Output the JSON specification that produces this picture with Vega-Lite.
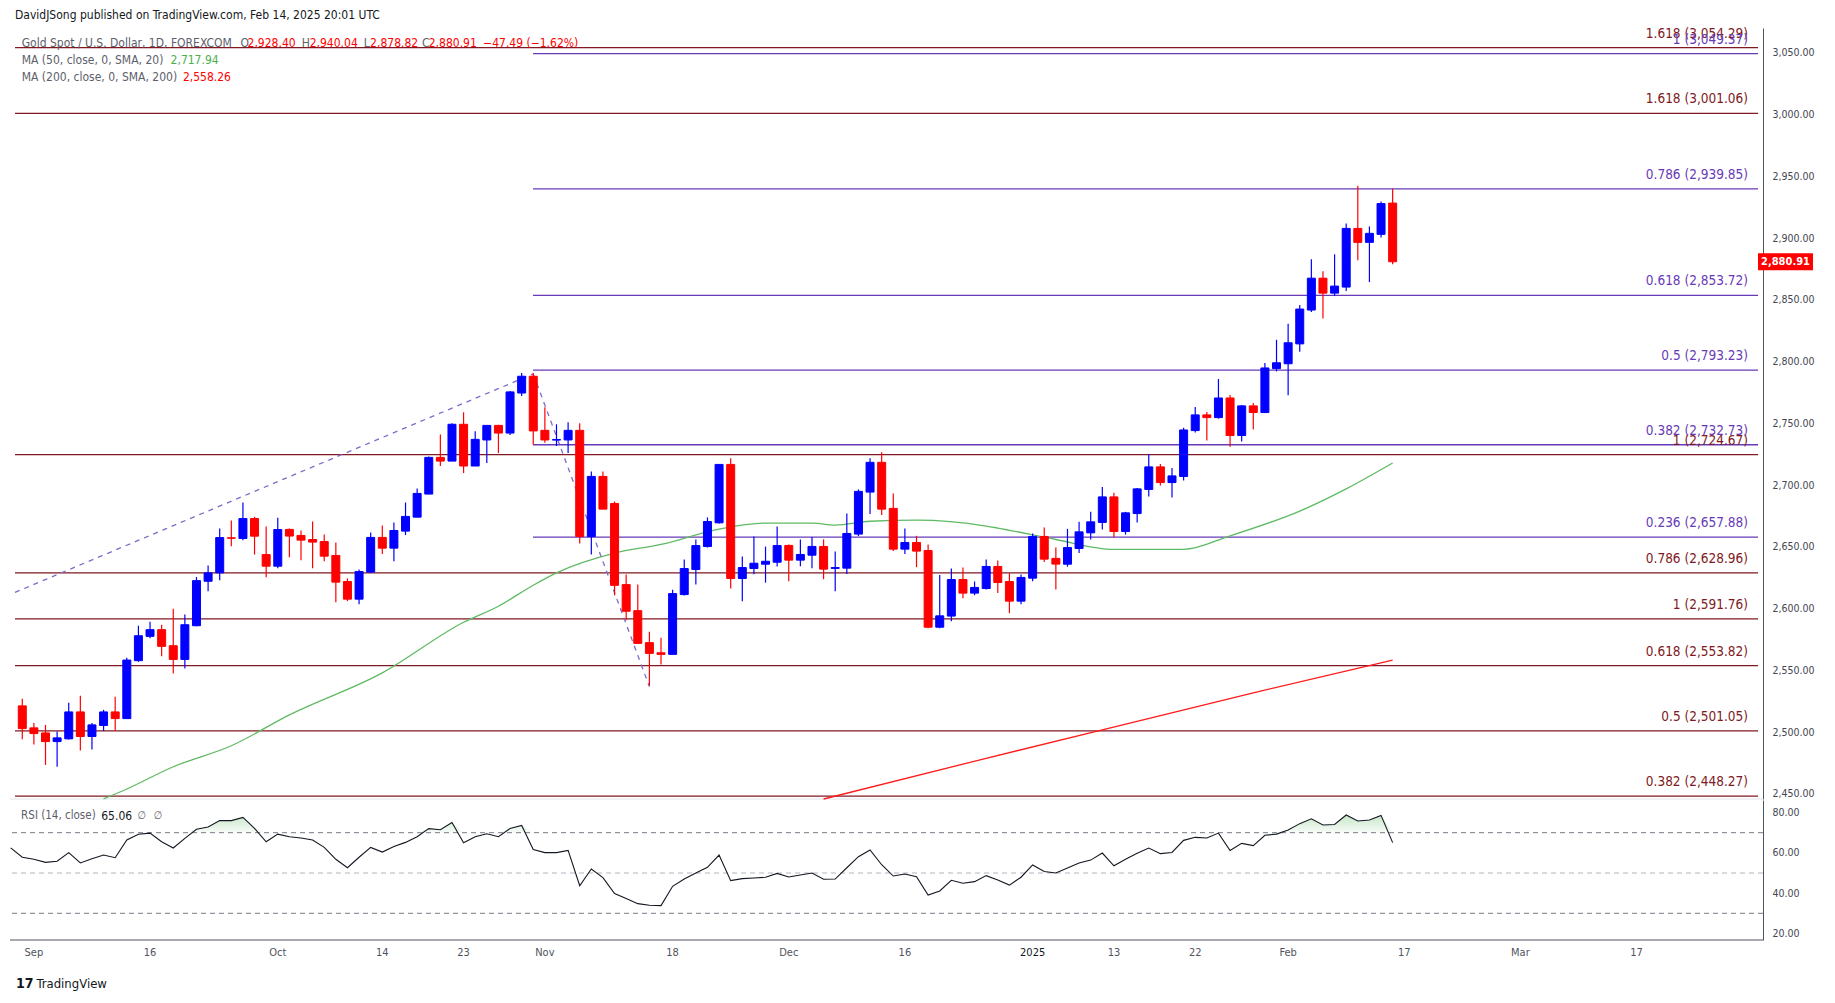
{
  "$schema": "https://vega.github.io/schema/vega-lite/v6.json",
  "width": 1753,
  "height": 912,
  "autosize": "none",
  "padding": {"left": 10, "top": 28, "right": 72, "bottom": 63},
  "background": "#ffffff",
  "config": {"view": {"stroke": null}, "font": "DejaVu Sans Condensed"},
  "data": {"values": [{}]},
  "datasets": {
    "bars": [
      {"i": -2, "rsi": 62.5},
      {"i": -1, "o": 2521.3, "h": 2527.0, "l": 2494.3, "c": 2502.9, "rsi": 57.8},
      {"i": 0, "o": 2503.5, "h": 2507.5, "l": 2490.0, "c": 2498.9, "rsi": 56.8},
      {"i": 1, "o": 2499.4, "h": 2505.9, "l": 2473.5, "c": 2492.4, "rsi": 55.3},
      {"i": 2, "o": 2492.4, "h": 2500.5, "l": 2472.1, "c": 2495.4, "rsi": 55.8},
      {"i": 3, "o": 2494.6, "h": 2523.8, "l": 2494.0, "c": 2516.4, "rsi": 60.1},
      {"i": 4, "o": 2516.4, "h": 2529.5, "l": 2485.1, "c": 2496.5, "rsi": 55.0},
      {"i": 5, "o": 2496.5, "h": 2507.5, "l": 2485.9, "c": 2505.9, "rsi": 57.1},
      {"i": 6, "o": 2505.4, "h": 2518.1, "l": 2501.0, "c": 2516.4, "rsi": 58.9},
      {"i": 7, "o": 2516.4, "h": 2528.6, "l": 2501.0, "c": 2511.0, "rsi": 57.6},
      {"i": 8, "o": 2511.0, "h": 2560.3, "l": 2511.0, "c": 2558.4, "rsi": 66.4},
      {"i": 9, "o": 2557.9, "h": 2586.2, "l": 2557.0, "c": 2578.1, "rsi": 69.2},
      {"i": 10, "o": 2577.6, "h": 2589.5, "l": 2576.0, "c": 2583.0, "rsi": 69.8},
      {"i": 11, "o": 2583.0, "h": 2587.0, "l": 2561.4, "c": 2569.5, "rsi": 65.5},
      {"i": 12, "o": 2570.0, "h": 2600.0, "l": 2547.6, "c": 2558.9, "rsi": 62.4},
      {"i": 13, "o": 2558.9, "h": 2595.2, "l": 2551.6, "c": 2587.0, "rsi": 67.2},
      {"i": 14, "o": 2586.2, "h": 2625.7, "l": 2585.7, "c": 2622.7, "rsi": 71.7},
      {"i": 15, "o": 2622.2, "h": 2634.9, "l": 2614.1, "c": 2629.0, "rsi": 72.8},
      {"i": 16, "o": 2629.0, "h": 2664.9, "l": 2623.0, "c": 2657.6, "rsi": 76.0},
      {"i": 17, "o": 2657.4, "h": 2671.4, "l": 2650.6, "c": 2657.0, "rsi": 76.0},
      {"i": 18, "o": 2656.8, "h": 2686.0, "l": 2655.4, "c": 2673.0, "rsi": 77.6},
      {"i": 19, "o": 2673.0, "h": 2674.4, "l": 2643.8, "c": 2658.7, "rsi": 72.1},
      {"i": 20, "o": 2643.8, "h": 2666.5, "l": 2625.4, "c": 2634.4, "rsi": 65.5},
      {"i": 21, "o": 2634.4, "h": 2673.6, "l": 2632.7, "c": 2664.1, "rsi": 69.3},
      {"i": 22, "o": 2664.2, "h": 2665.0, "l": 2641.7, "c": 2658.8, "rsi": 68.0},
      {"i": 23, "o": 2659.3, "h": 2663.3, "l": 2639.3, "c": 2655.5, "rsi": 67.4},
      {"i": 24, "o": 2656.0, "h": 2670.6, "l": 2632.8, "c": 2653.9, "rsi": 66.4},
      {"i": 25, "o": 2654.4, "h": 2660.1, "l": 2638.5, "c": 2642.5, "rsi": 62.7},
      {"i": 26, "o": 2643.1, "h": 2653.6, "l": 2605.3, "c": 2621.5, "rsi": 56.8},
      {"i": 27, "o": 2622.0, "h": 2624.5, "l": 2606.1, "c": 2607.7, "rsi": 52.6},
      {"i": 28, "o": 2607.7, "h": 2631.7, "l": 2603.6, "c": 2630.1, "rsi": 57.8},
      {"i": 29, "o": 2629.6, "h": 2661.7, "l": 2629.0, "c": 2657.7, "rsi": 62.7},
      {"i": 30, "o": 2657.7, "h": 2667.4, "l": 2644.2, "c": 2649.0, "rsi": 60.4},
      {"i": 31, "o": 2649.0, "h": 2669.8, "l": 2638.5, "c": 2663.3, "rsi": 63.1},
      {"i": 32, "o": 2662.8, "h": 2686.0, "l": 2659.6, "c": 2674.7, "rsi": 65.2},
      {"i": 33, "o": 2674.1, "h": 2697.4, "l": 2674.1, "c": 2693.3, "rsi": 68.0},
      {"i": 34, "o": 2692.8, "h": 2723.3, "l": 2692.8, "c": 2722.5, "rsi": 72.0},
      {"i": 35, "o": 2722.5, "h": 2741.1, "l": 2715.5, "c": 2719.5, "rsi": 71.5},
      {"i": 36, "o": 2719.5, "h": 2750.1, "l": 2719.5, "c": 2749.3, "rsi": 75.1},
      {"i": 37, "o": 2749.3, "h": 2759.0, "l": 2709.8, "c": 2715.5, "rsi": 65.0},
      {"i": 38, "o": 2715.5, "h": 2743.6, "l": 2715.5, "c": 2737.1, "rsi": 68.0},
      {"i": 39, "o": 2736.6, "h": 2748.4, "l": 2717.9, "c": 2748.4, "rsi": 69.5},
      {"i": 40, "o": 2748.4, "h": 2748.9, "l": 2726.0, "c": 2742.2, "rsi": 68.0},
      {"i": 41, "o": 2742.2, "h": 2776.3, "l": 2740.6, "c": 2775.5, "rsi": 72.1},
      {"i": 42, "o": 2774.6, "h": 2790.9, "l": 2772.2, "c": 2788.2, "rsi": 73.6},
      {"i": 43, "o": 2788.2, "h": 2790.9, "l": 2732.8, "c": 2743.9, "rsi": 61.7},
      {"i": 44, "o": 2744.4, "h": 2763.0, "l": 2734.4, "c": 2736.6, "rsi": 60.1},
      {"i": 45, "o": 2736.5, "h": 2749.3, "l": 2731.7, "c": 2737.0, "rsi": 60.1},
      {"i": 46, "o": 2736.6, "h": 2750.9, "l": 2726.0, "c": 2744.4, "rsi": 61.2},
      {"i": 47, "o": 2744.4, "h": 2750.1, "l": 2652.8, "c": 2658.4, "rsi": 43.7},
      {"i": 48, "o": 2658.4, "h": 2711.1, "l": 2643.8, "c": 2707.1, "rsi": 52.0},
      {"i": 49, "o": 2707.1, "h": 2711.1, "l": 2680.6, "c": 2680.6, "rsi": 47.7},
      {"i": 50, "o": 2685.2, "h": 2686.8, "l": 2610.8, "c": 2618.9, "rsi": 39.8},
      {"i": 51, "o": 2619.5, "h": 2627.6, "l": 2590.6, "c": 2597.9, "rsi": 37.3},
      {"i": 52, "o": 2598.4, "h": 2619.5, "l": 2571.9, "c": 2571.9, "rsi": 34.8},
      {"i": 53, "o": 2572.5, "h": 2581.4, "l": 2537.6, "c": 2563.8, "rsi": 34.0},
      {"i": 54, "o": 2564.3, "h": 2576.5, "l": 2554.9, "c": 2563.0, "rsi": 33.8},
      {"i": 55, "o": 2563.0, "h": 2615.4, "l": 2563.0, "c": 2612.2, "rsi": 43.4},
      {"i": 56, "o": 2611.4, "h": 2639.8, "l": 2610.6, "c": 2632.5, "rsi": 47.0},
      {"i": 57, "o": 2631.7, "h": 2656.0, "l": 2619.5, "c": 2651.1, "rsi": 50.0},
      {"i": 58, "o": 2650.3, "h": 2673.9, "l": 2649.5, "c": 2670.6, "rsi": 52.8},
      {"i": 59, "o": 2669.5, "h": 2716.8, "l": 2669.0, "c": 2716.8, "rsi": 58.9},
      {"i": 60, "o": 2716.8, "h": 2721.7, "l": 2616.3, "c": 2624.4, "rsi": 46.2},
      {"i": 61, "o": 2624.4, "h": 2642.2, "l": 2606.0, "c": 2633.3, "rsi": 47.2},
      {"i": 62, "o": 2632.5, "h": 2658.4, "l": 2627.9, "c": 2636.8, "rsi": 47.5},
      {"i": 63, "o": 2636.0, "h": 2650.3, "l": 2621.1, "c": 2638.4, "rsi": 47.9},
      {"i": 64, "o": 2637.6, "h": 2666.6, "l": 2634.1, "c": 2651.1, "rsi": 49.8},
      {"i": 65, "o": 2651.2, "h": 2652.0, "l": 2622.3, "c": 2639.3, "rsi": 48.0},
      {"i": 66, "o": 2639.3, "h": 2656.1, "l": 2634.4, "c": 2643.9, "rsi": 49.0},
      {"i": 67, "o": 2643.3, "h": 2658.0, "l": 2632.8, "c": 2650.4, "rsi": 50.0},
      {"i": 68, "o": 2650.4, "h": 2656.1, "l": 2623.9, "c": 2632.0, "rsi": 46.9},
      {"i": 69, "o": 2632.6, "h": 2646.3, "l": 2614.2, "c": 2633.3, "rsi": 47.0},
      {"i": 70, "o": 2632.8, "h": 2677.1, "l": 2628.0, "c": 2660.9, "rsi": 52.6},
      {"i": 71, "o": 2660.4, "h": 2696.6, "l": 2658.8, "c": 2695.0, "rsi": 58.1},
      {"i": 72, "o": 2694.4, "h": 2721.7, "l": 2676.6, "c": 2718.5, "rsi": 61.4},
      {"i": 73, "o": 2718.5, "h": 2726.6, "l": 2675.8, "c": 2680.6, "rsi": 54.1},
      {"i": 74, "o": 2681.2, "h": 2693.3, "l": 2646.6, "c": 2648.2, "rsi": 48.5},
      {"i": 75, "o": 2648.2, "h": 2665.0, "l": 2644.2, "c": 2653.6, "rsi": 49.5},
      {"i": 76, "o": 2653.6, "h": 2659.0, "l": 2633.6, "c": 2646.6, "rsi": 48.2},
      {"i": 77, "o": 2647.1, "h": 2652.0, "l": 2584.2, "c": 2585.0, "rsi": 39.1},
      {"i": 78, "o": 2585.0, "h": 2627.2, "l": 2584.2, "c": 2594.2, "rsi": 41.1},
      {"i": 79, "o": 2594.0, "h": 2632.6, "l": 2589.9, "c": 2623.6, "rsi": 46.4},
      {"i": 80, "o": 2623.6, "h": 2633.4, "l": 2608.5, "c": 2612.6, "rsi": 44.9},
      {"i": 81, "o": 2612.6, "h": 2622.0, "l": 2610.9, "c": 2617.2, "rsi": 45.7},
      {"i": 82, "o": 2616.3, "h": 2639.8, "l": 2615.5, "c": 2634.2, "rsi": 48.7},
      {"i": 83, "o": 2634.2, "h": 2639.0, "l": 2612.6, "c": 2621.2, "rsi": 46.5},
      {"i": 84, "o": 2622.0, "h": 2628.8, "l": 2596.4, "c": 2606.1, "rsi": 44.0},
      {"i": 85, "o": 2606.1, "h": 2627.7, "l": 2603.6, "c": 2625.3, "rsi": 47.9},
      {"i": 86, "o": 2624.7, "h": 2660.9, "l": 2622.3, "c": 2658.5, "rsi": 54.0},
      {"i": 87, "o": 2658.5, "h": 2665.8, "l": 2637.7, "c": 2640.1, "rsi": 50.7},
      {"i": 88, "o": 2640.7, "h": 2649.6, "l": 2615.5, "c": 2636.1, "rsi": 50.0},
      {"i": 89, "o": 2636.0, "h": 2664.6, "l": 2634.0, "c": 2649.5, "rsi": 52.5},
      {"i": 90, "o": 2648.7, "h": 2670.3, "l": 2645.0, "c": 2662.2, "rsi": 55.0},
      {"i": 91, "o": 2661.4, "h": 2678.4, "l": 2656.0, "c": 2670.3, "rsi": 56.4},
      {"i": 92, "o": 2669.8, "h": 2698.6, "l": 2664.1, "c": 2690.5, "rsi": 59.9},
      {"i": 93, "o": 2690.5, "h": 2693.8, "l": 2657.9, "c": 2662.5, "rsi": 53.6},
      {"i": 94, "o": 2662.5, "h": 2678.4, "l": 2660.0, "c": 2677.6, "rsi": 56.8},
      {"i": 95, "o": 2677.0, "h": 2697.8, "l": 2669.8, "c": 2697.0, "rsi": 59.8},
      {"i": 96, "o": 2696.5, "h": 2725.3, "l": 2690.8, "c": 2714.8, "rsi": 62.4},
      {"i": 97, "o": 2714.8, "h": 2717.2, "l": 2699.7, "c": 2702.1, "rsi": 59.6},
      {"i": 98, "o": 2702.1, "h": 2714.0, "l": 2690.0, "c": 2707.5, "rsi": 60.2},
      {"i": 99, "o": 2707.0, "h": 2746.4, "l": 2703.7, "c": 2744.7, "rsi": 66.2},
      {"i": 100, "o": 2744.2, "h": 2763.3, "l": 2742.6, "c": 2756.9, "rsi": 67.7},
      {"i": 101, "o": 2756.9, "h": 2759.3, "l": 2736.1, "c": 2754.7, "rsi": 67.4},
      {"i": 102, "o": 2754.7, "h": 2786.0, "l": 2753.9, "c": 2770.6, "rsi": 69.8},
      {"i": 103, "o": 2770.6, "h": 2773.1, "l": 2731.2, "c": 2740.2, "rsi": 61.2},
      {"i": 104, "o": 2740.2, "h": 2765.0, "l": 2735.3, "c": 2764.2, "rsi": 64.7},
      {"i": 105, "o": 2764.2, "h": 2766.6, "l": 2745.0, "c": 2758.8, "rsi": 63.6},
      {"i": 106, "o": 2758.8, "h": 2798.9, "l": 2758.8, "c": 2794.9, "rsi": 68.7},
      {"i": 107, "o": 2794.4, "h": 2817.7, "l": 2792.1, "c": 2799.1, "rsi": 69.3},
      {"i": 108, "o": 2798.3, "h": 2830.6, "l": 2772.8, "c": 2815.3, "rsi": 71.3},
      {"i": 109, "o": 2814.4, "h": 2845.9, "l": 2808.0, "c": 2842.6, "rsi": 74.5},
      {"i": 110, "o": 2841.8, "h": 2882.9, "l": 2840.2, "c": 2867.6, "rsi": 76.9},
      {"i": 111, "o": 2867.6, "h": 2873.2, "l": 2834.9, "c": 2855.5, "rsi": 73.8},
      {"i": 112, "o": 2855.5, "h": 2886.9, "l": 2853.1, "c": 2861.2, "rsi": 74.1},
      {"i": 113, "o": 2860.4, "h": 2911.9, "l": 2857.2, "c": 2907.9, "rsi": 78.8},
      {"i": 114, "o": 2907.9, "h": 2942.5, "l": 2882.1, "c": 2896.6, "rsi": 75.8},
      {"i": 115, "o": 2896.6, "h": 2909.5, "l": 2864.4, "c": 2903.9, "rsi": 76.3},
      {"i": 116, "o": 2903.1, "h": 2929.6, "l": 2900.6, "c": 2928.0, "rsi": 78.6},
      {"i": 117, "o": 2928.4, "h": 2940.04, "l": 2878.82, "c": 2880.91, "rsi": 65.06}
    ],
    "ma50": [
      {"i": 6, "v": 2446}, {"i": 8, "v": 2454}, {"i": 12, "v": 2472}, {"i": 17, "v": 2489},
      {"i": 22, "v": 2514}, {"i": 30, "v": 2548}, {"i": 37, "v": 2589}, {"i": 40, "v": 2602},
      {"i": 43, "v": 2619}, {"i": 45, "v": 2629}, {"i": 50, "v": 2645}, {"i": 54, "v": 2652},
      {"i": 59, "v": 2664.5}, {"i": 63, "v": 2669.3}, {"i": 67, "v": 2669.3}, {"i": 69, "v": 2667.7},
      {"i": 72, "v": 2670.8}, {"i": 76, "v": 2671.7}, {"i": 82, "v": 2666.9}, {"i": 83, "v": 2665.3},
      {"i": 88, "v": 2656}, {"i": 93, "v": 2648}, {"i": 99, "v": 2648}, {"i": 103, "v": 2659},
      {"i": 109, "v": 2679}, {"i": 113, "v": 2697}, {"i": 117, "v": 2717.94}
    ],
    "ma200": [
      {"i": 68, "v": 2445.9}, {"i": 80, "v": 2474.2}, {"i": 92, "v": 2501.9},
      {"i": 105, "v": 2531.9}, {"i": 117, "v": 2558.26}
    ],
    "trend": [
      {"seg": "up", "i": -1.627, "v": 2613.2}, {"seg": "up", "i": 43, "v": 2790.1},
      {"seg": "down", "i": 43, "v": 2790.1}, {"seg": "down", "i": 53, "v": 2536.9}
    ],
    "fib": [
      {"v": 3054.29, "t": "1.618 (3,054.29)", "s": "red"},
      {"v": 3001.06, "t": "1.618 (3,001.06)", "s": "red"},
      {"v": 2724.67, "t": "1 (2,724.67)", "s": "red"},
      {"v": 2628.96, "t": "0.786 (2,628.96)", "s": "red"},
      {"v": 2591.76, "t": "1 (2,591.76)", "s": "red"},
      {"v": 2553.82, "t": "0.618 (2,553.82)", "s": "red"},
      {"v": 2501.05, "t": "0.5 (2,501.05)", "s": "red"},
      {"v": 2448.27, "t": "0.382 (2,448.27)", "s": "red"},
      {"v": 3049.37, "t": "1 (3,049.37)", "s": "purple"},
      {"v": 2939.85, "t": "0.786 (2,939.85)", "s": "purple"},
      {"v": 2853.72, "t": "0.618 (2,853.72)", "s": "purple"},
      {"v": 2793.23, "t": "0.5 (2,793.23)", "s": "purple"},
      {"v": 2732.73, "t": "0.382 (2,732.73)", "s": "purple"},
      {"v": 2657.88, "t": "0.236 (2,657.88)", "s": "purple"}
    ],
    "ticks": [
      {"i": 0, "t": "Sep"}, {"i": 10, "t": "16"}, {"i": 21, "t": "Oct"}, {"i": 30, "t": "14"},
      {"i": 37, "t": "23"}, {"i": 44, "t": "Nov"}, {"i": 55, "t": "18"}, {"i": 65, "t": "Dec"},
      {"i": 75, "t": "16"}, {"i": 86, "t": "2025"}, {"i": 93, "t": "13"}, {"i": 100, "t": "22"},
      {"i": 108, "t": "Feb"}, {"i": 118, "t": "17"}, {"i": 128, "t": "Mar"}, {"i": 138, "t": "17"}
    ]
  },
  "layer": [
    {
      "layer": [
        {
          "mark": {"type": "rule", "color": "#e0e3eb", "strokeWidth": 1},
          "encoding": {"y": {"datum": 2445.9, "type": "quantitative"}}
        },
        {
          "data": {"name": "fib"},
          "transform": [{"filter": "datum.s == 'red'"}],
          "mark": {"type": "rule", "color": "#801922", "strokeWidth": 1.3},
          "encoding": {
            "x": {"datum": -1.627, "type": "quantitative", "axis": null},
            "x2": {"datum": 148.46},
            "y": {"field": "v", "type": "quantitative"}
          }
        },
        {
          "data": {"name": "fib"},
          "transform": [{"filter": "datum.s == 'purple'"}],
          "mark": {"type": "rule", "color": "#673ab7", "strokeWidth": 1.3},
          "encoding": {
            "x": {"datum": 42.98, "type": "quantitative", "axis": null},
            "x2": {"datum": 148.46},
            "y": {"field": "v", "type": "quantitative"}
          }
        },
        {
          "data": {"name": "fib"},
          "mark": {"type": "text", "align": "right", "baseline": "middle", "dy": -14, "fontSize": 13.5},
          "encoding": {
            "x": {"datum": 147.6, "type": "quantitative", "axis": null},
            "y": {"field": "v", "type": "quantitative"},
            "text": {"field": "t"},
            "color": {"condition": {"test": "datum.s == 'purple'", "value": "#673ab7"}, "value": "#801922"}
          }
        },
        {
          "data": {"name": "ma200"},
          "mark": {"type": "line", "color": "#ff1a1a", "strokeWidth": 1.3, "clip": true},
          "encoding": {
            "x": {"field": "i", "type": "quantitative", "axis": null},
            "y": {"field": "v", "type": "quantitative"}
          }
        },
        {
          "data": {"name": "ma50"},
          "mark": {"type": "line", "color": "#5fba63", "strokeWidth": 1.3, "interpolate": "monotone", "clip": true},
          "encoding": {
            "x": {"field": "i", "type": "quantitative", "axis": null},
            "y": {"field": "v", "type": "quantitative"}
          }
        },
        {
          "data": {"name": "trend"},
          "mark": {"type": "line", "color": "#7e6bc9", "strokeWidth": 1.3, "strokeDash": [5, 5], "clip": true},
          "encoding": {
            "x": {"field": "i", "type": "quantitative", "axis": null},
            "y": {"field": "v", "type": "quantitative"},
            "detail": {"field": "seg"}
          }
        },
        {
          "data": {"name": "bars"},
          "transform": [{"filter": "isValid(datum.o)"}],
          "mark": {"type": "rule", "strokeWidth": 1.2},
          "encoding": {
            "x": {
              "field": "i", "type": "quantitative",
              "scale": {"domain": [-1.627, 148.46], "nice": false, "zero": false},
              "axis": null
            },
            "y": {
              "field": "l", "type": "quantitative",
              "scale": {"domain": [2445.9, 3070.16], "range": [771, 0], "nice": false, "zero": false},
              "axis": {
                "orient": "right", "title": null, "grid": false, "ticks": false, "labelFlush": false, "labelOverlap": false,
                "values": [2450, 2475, 2500, 2525, 2550, 2575, 2600, 2625, 2650, 2675, 2700, 2725, 2750, 2775, 2800, 2825, 2850, 2875, 2900, 2925, 2950, 2975, 3000, 3025, 3050],
                "format": ",.2f", "labelFontSize": 10.5, "labelColor": "#434651", "labelPadding": 9, "domainColor": "#50535e"
              }
            },
            "y2": {"field": "h"},
            "color": {"condition": {"test": "datum.c >= datum.o", "value": "#0000ff"}, "value": "#ff0000"}
          }
        },
        {
          "data": {"name": "bars"},
          "transform": [{"filter": "isValid(datum.o)"}],
          "mark": {"type": "bar", "width": 8, "strokeWidth": 1},
          "encoding": {
            "x": {"field": "i", "type": "quantitative", "axis": null},
            "y": {"field": "o", "type": "quantitative"},
            "y2": {"field": "c"},
            "fill": {"condition": {"test": "datum.c >= datum.o", "value": "#0000ff"}, "value": "#ff0000"},
            "stroke": {"condition": {"test": "datum.c >= datum.o", "value": "#0000ff"}, "value": "#ff0000"}
          }
        },
        {
          "mark": {"type": "rect", "color": "#ff0000", "yOffset": -8.5, "y2Offset": 8.5, "x2Offset": 55},
          "encoding": {
            "x": {"datum": 148.46, "type": "quantitative", "axis": null},
            "x2": {"datum": 148.46},
            "y": {"datum": 2880.91, "type": "quantitative"},
            "y2": {"datum": 2880.91}
          }
        },
        {
          "mark": {"type": "text", "color": "#ffffff", "fontWeight": "bold", "fontSize": 11, "align": "center", "baseline": "middle", "dx": 27.5},
          "encoding": {
            "x": {"datum": 148.46, "type": "quantitative", "axis": null},
            "y": {"datum": 2880.91, "type": "quantitative"},
            "text": {"value": "2,880.91"}
          }
        },
        {
          "mark": {"type": "text", "align": "left", "baseline": "middle", "fontSize": 12, "color": "#131722"},
          "encoding": {"x": {"datum": -1.627, "type": "quantitative", "axis": null}, "y": {"datum": 3080.7, "type": "quantitative"}, "text": {"value": "DavidJSong published on TradingView.com, Feb 14, 2025 20:01 UTC"}}
        },
        {
          "mark": {"type": "text", "align": "left", "baseline": "middle", "fontSize": 12, "color": "#5d606b"},
          "encoding": {"x": {"datum": -1.05, "type": "quantitative", "axis": null}, "y": {"datum": 3058.26, "type": "quantitative"}, "text": {"value": "Gold Spot / U.S. Dollar, 1D, FOREXCOM"}}
        },
        {
          "mark": {"type": "text", "align": "left", "baseline": "middle", "fontSize": 12, "color": "#5d606b"},
          "encoding": {"x": {"datum": 17.8, "type": "quantitative", "axis": null}, "y": {"datum": 3058.26, "type": "quantitative"}, "text": {"value": "O"}}
        },
        {
          "mark": {"type": "text", "align": "left", "baseline": "middle", "fontSize": 12, "color": "#ff0000"},
          "encoding": {"x": {"datum": 18.4, "type": "quantitative", "axis": null}, "y": {"datum": 3058.26, "type": "quantitative"}, "text": {"value": "2,928.40"}}
        },
        {
          "mark": {"type": "text", "align": "left", "baseline": "middle", "fontSize": 12, "color": "#5d606b"},
          "encoding": {"x": {"datum": 23.07, "type": "quantitative", "axis": null}, "y": {"datum": 3058.26, "type": "quantitative"}, "text": {"value": "H"}}
        },
        {
          "mark": {"type": "text", "align": "left", "baseline": "middle", "fontSize": 12, "color": "#ff0000"},
          "encoding": {"x": {"datum": 23.75, "type": "quantitative", "axis": null}, "y": {"datum": 3058.26, "type": "quantitative"}, "text": {"value": "2,940.04"}}
        },
        {
          "mark": {"type": "text", "align": "left", "baseline": "middle", "fontSize": 12, "color": "#5d606b"},
          "encoding": {"x": {"datum": 28.41, "type": "quantitative", "axis": null}, "y": {"datum": 3058.26, "type": "quantitative"}, "text": {"value": "L"}}
        },
        {
          "mark": {"type": "text", "align": "left", "baseline": "middle", "fontSize": 12, "color": "#ff0000"},
          "encoding": {"x": {"datum": 28.95, "type": "quantitative", "axis": null}, "y": {"datum": 3058.26, "type": "quantitative"}, "text": {"value": "2,878.82"}}
        },
        {
          "mark": {"type": "text", "align": "left", "baseline": "middle", "fontSize": 12, "color": "#5d606b"},
          "encoding": {"x": {"datum": 33.41, "type": "quantitative", "axis": null}, "y": {"datum": 3058.26, "type": "quantitative"}, "text": {"value": "C"}}
        },
        {
          "mark": {"type": "text", "align": "left", "baseline": "middle", "fontSize": 12, "color": "#ff0000"},
          "encoding": {"x": {"datum": 34.0, "type": "quantitative", "axis": null}, "y": {"datum": 3058.26, "type": "quantitative"}, "text": {"value": "2,880.91"}}
        },
        {
          "mark": {"type": "text", "align": "left", "baseline": "middle", "fontSize": 12, "color": "#ff0000"},
          "encoding": {"x": {"datum": 38.68, "type": "quantitative", "axis": null}, "y": {"datum": 3058.26, "type": "quantitative"}, "text": {"value": "−47.49 (−1.62%)"}}
        },
        {
          "mark": {"type": "text", "align": "left", "baseline": "middle", "fontSize": 12, "color": "#5d606b"},
          "encoding": {"x": {"datum": -1.05, "type": "quantitative", "axis": null}, "y": {"datum": 3044.25, "type": "quantitative"}, "text": {"value": "MA (50, close, 0, SMA, 20)"}}
        },
        {
          "mark": {"type": "text", "align": "left", "baseline": "middle", "fontSize": 12, "color": "#4caf50"},
          "encoding": {"x": {"datum": 11.77, "type": "quantitative", "axis": null}, "y": {"datum": 3044.25, "type": "quantitative"}, "text": {"value": "2,717.94"}}
        },
        {
          "mark": {"type": "text", "align": "left", "baseline": "middle", "fontSize": 12, "color": "#5d606b"},
          "encoding": {"x": {"datum": -1.05, "type": "quantitative", "axis": null}, "y": {"datum": 3030.49, "type": "quantitative"}, "text": {"value": "MA (200, close, 0, SMA, 200)"}}
        },
        {
          "mark": {"type": "text", "align": "left", "baseline": "middle", "fontSize": 12, "color": "#ff0000"},
          "encoding": {"x": {"datum": 12.83, "type": "quantitative", "axis": null}, "y": {"datum": 3030.49, "type": "quantitative"}, "text": {"value": "2,558.26"}}
        }
      ]
    },
    {
      "data": {"name": "bars"},
      "mark": {"type": "area", "clip": true, "fill": {"gradient": "linear", "x1": 0, "y1": 0, "x2": 0, "y2": 1, "stops": [{"offset": 0, "color": "rgba(76,175,80,0.32)"}, {"offset": 1, "color": "rgba(76,175,80,0.04)"}]}},
      "encoding": {
        "x": {"field": "i", "type": "quantitative", "axis": null},
        "y": {"field": "rsi", "type": "quantitative", "scale": {"domain": [70, 86.23], "range": [804.7, 772], "clamp": true, "nice": false, "zero": false}, "axis": null},
        "y2": {"datum": 70}
      }
    },
    {
      "layer": [
        {
          "mark": {"type": "rule", "color": "#787b86", "strokeWidth": 1, "strokeDash": [5, 4]},
          "encoding": {"y": {"datum": 70, "type": "quantitative"}}
        },
        {
          "mark": {"type": "rule", "color": "#b2b5be", "strokeWidth": 1, "strokeDash": [5, 4]},
          "encoding": {"y": {"datum": 50, "type": "quantitative"}}
        },
        {
          "mark": {"type": "rule", "color": "#787b86", "strokeWidth": 1, "strokeDash": [5, 4]},
          "encoding": {"y": {"datum": 30, "type": "quantitative"}}
        },
        {
          "mark": {"type": "rule", "color": "#50535e", "strokeWidth": 1},
          "encoding": {"y": {"datum": 16.75, "type": "quantitative"}}
        },
        {
          "data": {"name": "bars"},
          "mark": {"type": "line", "color": "#131722", "strokeWidth": 1.1, "clip": true},
          "encoding": {
            "x": {"field": "i", "type": "quantitative", "axis": null},
            "y": {
              "field": "rsi", "type": "quantitative",
              "scale": {"domain": [16.75, 86.23], "range": [912, 772], "nice": false, "zero": false},
              "axis": {
                "orient": "right", "title": null, "grid": false, "ticks": false, "labelFlush": false, "labelOverlap": false,
                "values": [20, 40, 60, 80], "format": ".2f", "labelFontSize": 10.5, "labelColor": "#434651",
                "labelPadding": 9, "domainColor": "#50535e"
              }
            }
          }
        },
        {
          "data": {"name": "ticks"},
          "mark": {"type": "text", "align": "center", "baseline": "middle", "fontSize": 11},
          "encoding": {
            "x": {"field": "i", "type": "quantitative", "axis": null},
            "y": {"datum": 10.3, "type": "quantitative"},
            "text": {"field": "t"},
            "color": {"condition": {"test": "datum.t == '2025'", "value": "#131722"}, "value": "#50535e"},
            "fontWeight": {"condition": {"test": "datum.t == '2025'", "value": "bold"}, "value": "normal"}
          }
        },
        {
          "mark": {"type": "text", "align": "left", "baseline": "middle", "fontSize": 11.5, "color": "#5d606b"},
          "encoding": {"x": {"datum": -1.1, "type": "quantitative", "axis": null}, "y": {"datum": 78.29, "type": "quantitative"}, "text": {"value": "RSI (14, close)"}}
        },
        {
          "mark": {"type": "text", "align": "left", "baseline": "middle", "fontSize": 12, "color": "#131722"},
          "encoding": {"x": {"datum": 5.8, "type": "quantitative", "axis": null}, "y": {"datum": 78.29, "type": "quantitative"}, "text": {"value": "65.06"}}
        },
        {
          "mark": {"type": "text", "align": "left", "baseline": "middle", "fontSize": 11, "color": "#5d606b"},
          "encoding": {"x": {"datum": 8.9, "type": "quantitative", "axis": null}, "y": {"datum": 78.29, "type": "quantitative"}, "text": {"value": "∅"}}
        },
        {
          "mark": {"type": "text", "align": "left", "baseline": "middle", "fontSize": 11, "color": "#5d606b"},
          "encoding": {"x": {"datum": 10.3, "type": "quantitative", "axis": null}, "y": {"datum": 78.29, "type": "quantitative"}, "text": {"value": "∅"}}
        },
        {
          "mark": {"type": "text", "align": "left", "baseline": "middle", "fontSize": 14, "fontWeight": "bold", "color": "#131722"},
          "encoding": {"x": {"datum": -1.54, "type": "quantitative", "axis": null}, "y": {"datum": -5.09, "type": "quantitative"}, "text": {"value": "17"}}
        },
        {
          "mark": {"type": "text", "align": "left", "baseline": "middle", "fontSize": 13, "color": "#131722"},
          "encoding": {"x": {"datum": 0.22, "type": "quantitative", "axis": null}, "y": {"datum": -5.09, "type": "quantitative"}, "text": {"value": "TradingView"}}
        }
      ]
    }
  ],
  "resolve": {"scale": {"y": "independent"}, "axis": {"y": "independent"}}
}
